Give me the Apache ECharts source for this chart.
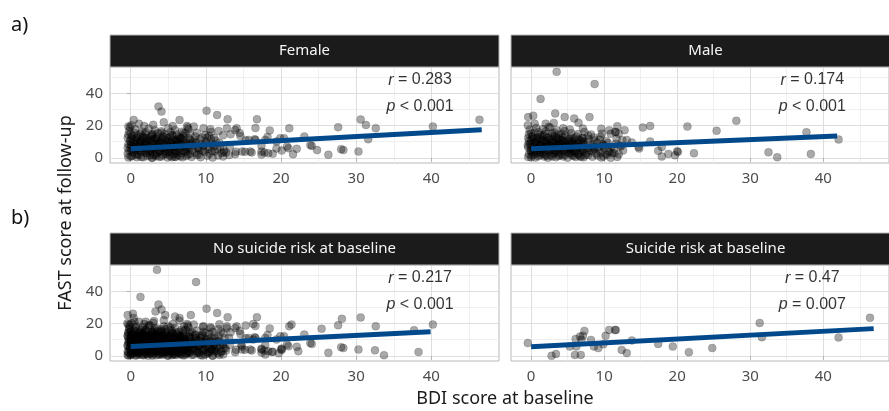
<!DOCTYPE html>
<html>
<head>
<meta charset="utf-8">
<script src="https://cdn.jsdelivr.net/npm/echarts@6/dist/echarts.min.js"></script>
<style>
  html, body { margin: 0; padding: 0; background: #ffffff; }
  #chart { width: 889px; height: 411px; }
</style>
</head>
<body>
<div id="chart"></div>
<script>
// BDI score at baseline (x) vs FAST score at follow-up (y), split into four groups.
const femaleNoRisk = [
  [40.2,19.4],[32.6,18.4],[30.6,23.8],[30.3,3.9],[27.6,19.0],[28.0,5.4],[28.3,4.8],[26.3,1.9],
  [23.9,8.0],[24.1,7.4],[23.1,13.2],[22.1,5.6],[21.1,18.4],[20.8,7.0],[20.1,4.5],[20.4,12.2],
  [18.9,2.5],[18.5,17.0],[18.2,13.0],[17.8,3.3],[16.8,24.0],[16.6,18.5],[16.5,11.6],[16.1,3.3],
  [15.2,3.8],[15.3,11.0],[14.5,15.4],[14.6,13.5],[14.1,18.3],[14.0,3.8],[12.9,24.0],[13.3,14.6],
  [13.2,6.8],[11.5,26.6],[12.3,14.0],[10.6,17.8],[10.1,29.3],[11.3,10.8],[9.7,18.4],[7.5,19.8],
  [7.7,17.8],[6.5,23.5],[3.7,31.8],[4.1,28.7],[4.4,22.1],[0.4,23.5],[-0.1,19.0],[8.4,19.4],
  [11.7,16.7],[12.8,18.4],[13.9,17.3],[16.6,11.1],[15.7,11.1],[17.9,11.1],[19.9,12.2],[19.4,10.1],
  [21.0,6.0],[17.4,3.9],[17.4,2.0],[15.9,3.9],[14.8,3.9],[13.9,2.3],[18.3,2.9],
  [-0.3,0.2],[0.2,1.1],[0.8,0.4],[1.1,1.8],[1.7,0.3],[2.2,1.2],[2.9,0.1],[3.1,1.6],[3.8,0.6],
  [4.3,1.9],[4.9,0.2],[5.2,1.3],[5.8,0.7],[6.3,1.8],[6.9,0.3],[7.4,1.1],[8.1,0.5],[8.8,1.7],
  [9.3,0.4],[10.2,1.3],[10.9,0.2],[11.6,1.5],[12.3,0.8],
  [-0.4,2.6],[0.3,3.4],[0.9,2.2],[1.4,3.8],[2.1,2.9],[2.6,3.6],[3.3,2.4],[3.9,3.9],[4.6,2.7],
  [5.1,3.5],[5.7,2.3],[6.2,3.8],[6.8,2.8],[7.3,3.6],[7.9,2.4],[8.6,3.2],[9.1,2.1],[9.8,3.7],
  [10.5,2.6],[11.2,3.9],[12.1,2.9],[12.7,3.3],
  [-0.2,4.4],[0.4,5.6],[1.0,4.8],[1.6,5.9],[2.3,4.2],[2.8,5.3],[3.4,4.7],[4.1,5.8],[4.7,4.3],
  [5.3,5.1],[5.9,4.6],[6.4,5.7],[7.1,4.1],[7.7,5.4],[8.2,4.8],[8.9,5.9],[9.6,4.5],[10.3,5.5],
  [10.8,4.2],[11.5,5.2],[12.4,4.9],
  [-0.4,6.3],[0.1,7.5],[0.7,6.8],[1.3,7.9],[1.9,6.2],[2.5,7.4],[3.2,6.6],[3.7,7.8],[4.4,6.1],
  [5.0,7.2],[5.5,6.7],[6.1,7.9],[6.7,6.4],[7.2,7.3],[7.8,6.9],[8.4,7.7],[9.0,6.3],[9.7,7.5],
  [10.4,6.8],[11.1,7.2],[11.9,6.5],
  [-0.3,8.4],[0.3,9.6],[0.9,8.8],[1.5,9.9],[2.0,8.2],[2.7,9.3],[3.3,8.7],[4.0,9.8],[4.5,8.3],
  [5.2,9.4],[5.8,8.9],[6.3,9.7],[6.9,8.1],[7.5,9.2],[8.1,8.6],[8.7,9.5],[9.4,8.4],[10.1,9.1],
  [10.9,8.7],[11.8,9.3],
  [-0.1,10.6],[0.5,11.4],[1.2,10.2],[1.8,11.8],[2.4,10.9],[3.0,11.5],[3.6,10.3],[4.2,11.7],
  [4.9,10.5],[5.5,11.2],[6.0,10.8],[6.6,11.9],[7.3,10.4],[7.9,11.3],[8.5,10.7],[9.2,11.6],
  [10.0,10.2],[10.7,11.4],
  [-0.4,12.5],[0.2,13.6],[0.8,12.9],[1.6,13.3],[2.2,12.2],[2.9,13.8],[3.5,12.7],[4.3,13.4],
  [5.0,12.4],[5.6,13.9],[6.4,12.8],[7.0,13.5],[7.7,12.3],[8.6,13.2],[9.5,12.6],[10.4,13.7],
  [11.1,12.4],
  [-0.3,14.4],[0.5,15.5],[1.3,14.9],[2.0,15.8],[2.8,14.3],[3.6,15.2],[4.5,14.7],[5.3,15.9],
  [6.1,14.5],[7.0,15.3],[7.9,14.8],[8.8,15.6],[9.9,14.2],
  [-0.2,16.7],[0.6,17.8],[1.5,16.4],[2.4,18.2],[3.2,17.1],[4.1,16.5],[5.0,18.4],[5.9,17.3],
  [6.8,16.2],[7.6,18.9],
  [-0.3,19.5],[0.1,20.3],[1.1,21.2],[1.8,19.8],[3.0,20.5],[5.6,19.7],
  [0.0,0.9],[0.6,2.0],[1.4,0.6],[2.0,3.1],[2.6,1.7],[3.5,3.0],[4.1,0.8],[4.8,2.5],[5.5,0.4],
  [6.0,2.9],[6.6,1.0],[7.6,2.0],
  [0.1,4.2],[0.7,5.0],[1.3,4.4],[1.9,5.2],[2.5,4.6],[3.1,5.5],[3.8,4.0],[4.4,4.9],[5.1,4.4],
  [5.7,5.4],[6.5,4.5],[7.4,4.9],
  [0.0,6.0],[0.5,6.6],[1.1,7.0],[1.7,6.5],[2.2,7.9],[2.9,6.1],[3.5,7.1],[4.1,6.5],[4.7,7.6],
  [5.3,6.3],[5.9,7.0],[6.5,7.6],[7.5,6.1],
  [0.0,8.1],[0.6,8.5],[1.2,9.2],[1.8,8.6],[2.4,9.8],[3.0,8.1],[3.7,9.3],[4.3,8.9],[4.9,9.6],
  [5.6,8.2],[6.2,9.0],[7.2,8.6],
  [0.0,10.3],[0.7,10.8],[1.4,11.1],[2.0,10.4],[2.7,11.0],[3.3,11.9],[3.9,10.8],[4.6,11.3],
  [5.3,10.1],[6.2,11.4],[7.0,11.0],
  [0.1,12.0],[0.9,12.3],[1.8,12.6],[2.6,13.0],[3.4,12.2],[4.4,12.8],[5.3,13.2],[6.6,12.5],
  [0.0,14.9],[0.9,14.1],[1.9,14.6],[3.0,14.9],[4.1,15.6],[5.5,14.2]
];

const femaleRisk = [
  [2.8,0.0],[3.4,1.2],[6.1,10.5],[6.0,0.6],[6.7,12.0],[7.3,15.5],[8.2,9.9],[9.2,4.8],
  [10.2,12.4],[10.7,16.1],[12.4,3.7],[13.1,1.7],[17.4,7.4],[19.4,5.8],[21.6,2.3],[24.8,4.8],
  [31.3,20.4],[31.6,11.6],[46.4,23.6]
];

const maleNoRisk = [
  [3.5,53.4],[8.7,45.8],[1.3,36.6],[3.3,27.6],[0.3,26.2],[-0.4,25.3],[4.6,25.3],[5.9,24.4],
  [6.5,21.8],[8.0,25.3],[-0.45,20.2],[0.5,21.2],[2.0,21.2],[2.4,19.2],[3.1,21.7],[9.6,18.1],
  [10.7,17.1],[11.8,19.6],[12.8,17.2],[12.0,15.0],[10.9,15.0],[9.7,15.0],[15.3,18.8],[16.3,19.8],
  [21.4,19.4],[25.4,16.8],[28.1,23.0],[37.7,15.9],[38.3,2.4],[33.7,0.4],[32.5,3.4],[22.3,2.9],
  [20.0,4.1],[20.1,3.7],[19.7,1.6],[18.8,2.4],[17.9,0.8],[17.4,4.4],[17.9,6.8],[16.3,10.1],
  [14.8,5.8],[13.1,11.1],[12.3,7.0],[11.4,2.9],[11.8,0.6],[11.1,2.7],[9.9,0.8],[10.9,0.1],[14.7,6.8],
  [-0.4,0.5],[0.1,1.4],[0.6,0.2],[1.2,1.7],[1.8,0.8],[2.3,0.1],[2.7,1.5],[3.4,0.4],[3.9,1.9],
  [4.4,0.9],[5.0,0.1],[5.6,1.6],[6.1,0.5],[6.7,1.2],[7.2,0.3],[7.8,1.8],[8.4,0.7],[9.1,1.4],
  [9.6,0.2],[10.4,1.9],
  [-0.3,2.3],[0.2,3.7],[0.8,2.9],[1.3,3.2],[1.9,2.1],[2.5,3.9],[3.0,2.6],[3.6,3.4],[4.2,2.2],
  [4.8,3.8],[5.4,2.7],[5.9,3.3],[6.5,2.1],[7.0,3.6],[7.6,2.8],[8.3,3.9],[8.9,2.5],[9.5,3.1],
  [10.2,2.4],[10.8,3.7],[12.0,2.2],
  [-0.1,4.7],[0.4,5.3],[1.0,4.1],[1.6,5.7],[2.1,4.9],[2.7,5.4],[3.3,4.3],[3.8,5.9],[4.5,4.6],
  [5.1,5.2],[5.7,4.2],[6.3,5.8],[6.8,4.7],[7.4,5.5],[8.0,4.4],[8.6,5.6],[9.3,4.9],[10.0,5.8],
  [10.6,4.3],[11.3,5.4],[12.6,4.6],
  [-0.4,6.6],[0.3,7.2],[0.9,6.1],[1.4,7.7],[2.0,6.9],[2.6,7.3],[3.1,6.4],[3.7,7.9],[4.3,6.7],
  [4.9,7.4],[5.5,6.2],[6.0,7.6],[6.6,6.9],[7.3,7.8],[7.9,6.3],[8.5,7.1],[9.2,6.6],[9.9,7.9],
  [11.0,6.8],[12.2,7.5],
  [-0.2,8.7],[0.5,9.3],[1.1,8.2],[1.7,9.8],[2.2,8.5],[2.9,9.6],[3.5,8.3],[4.0,9.1],[4.7,8.8],
  [5.3,9.9],[5.8,8.4],[6.4,9.4],[7.1,8.9],[7.7,9.7],[8.4,8.2],[9.0,9.5],[9.8,8.6],[10.5,9.2],
  [11.6,8.8],
  [-0.3,10.4],[0.3,11.8],[0.8,10.9],[1.5,11.3],[2.1,10.1],[2.8,11.6],[3.4,10.7],[4.1,11.2],
  [4.6,10.3],[5.2,11.9],[5.9,10.6],[6.5,11.4],[7.2,10.2],[7.9,11.7],[8.7,10.8],[9.4,11.3],
  [10.3,10.5],[11.7,11.8],[12.5,10.9],
  [-0.4,12.3],[0.2,13.4],[1.0,12.8],[1.7,13.9],[2.4,12.5],[3.2,13.2],[3.9,12.1],[4.7,13.7],
  [5.4,12.6],[6.2,13.3],[7.0,12.2],[7.8,13.8],[8.6,12.7],[9.5,13.1],
  [-0.3,14.6],[0.5,15.8],[1.2,14.2],[2.0,16.3],[2.9,15.1],[3.8,14.4],[4.6,16.6],[5.5,15.3],
  [6.4,14.8],[7.3,16.1],[8.2,14.5],
  [-0.2,17.4],[0.7,18.6],[1.6,17.8],[2.6,18.9],[3.5,17.2],[4.4,18.3],[5.3,17.6],[7.1,18.2],
  [0.0,0.3],[0.4,2.1],[1.0,1.0],[1.6,2.6],[2.1,1.3],[2.9,0.8],[3.2,2.9],[3.8,1.2],[4.6,1.7],
  [5.2,2.9],[5.8,1.1],[6.4,2.5],[7.4,1.6],
  [0.0,4.0],[0.6,4.8],[1.3,5.1],[1.9,4.3],[2.4,5.8],[3.0,4.6],[3.6,5.2],[4.1,4.1],[4.8,5.6],
  [5.4,4.8],[6.0,4.3],[7.1,5.1],
  [0.0,6.2],[0.7,6.9],[1.2,7.5],[1.8,6.4],[2.3,7.7],[2.9,6.7],[3.4,7.3],[4.0,6.3],[4.6,7.5],
  [5.2,6.8],[5.8,7.2],[6.9,6.2],
  [0.0,8.4],[0.8,8.9],[1.4,8.5],[2.0,9.5],[2.6,8.1],[3.2,9.1],[3.8,8.6],[4.4,9.6],[5.0,8.3],
  [5.6,9.2],[6.2,8.6],
  [0.0,10.8],[0.6,10.2],[1.2,11.5],[1.9,10.7],[2.5,11.2],[3.1,10.3],[3.7,11.6],[4.3,10.6],
  [5.0,11.0],[5.6,10.4],[6.8,10.9],
  [0.1,12.9],[0.8,12.1],[1.5,13.1],[2.2,12.7],[2.9,13.6],[3.5,12.4],[4.3,13.1],[5.9,12.2],
  [0.0,15.2],[1.0,16.0],[1.9,14.8],[3.2,15.7],[4.2,14.9]
];

const maleRisk = [
  [-0.45,7.9],[5.3,5.8],[6.8,0.6],[6.2,5.8],[7.1,12.4],[6.9,10.0],[8.6,5.8],[9.9,7.2],
  [11.5,16.1],[11.6,16.0],[13.8,9.5],[42.1,11.4]
];

// Fitted regression lines: [start, end] in data units
const fitFemale = [[0, 5.6], [46.7, 17.5]];
const fitMale = [[0, 5.6], [41.9, 13.6]];
const fitNoRisk = [[0, 5.8], [39.9, 15.0]];
const fitRisk = [[0, 5.6], [46.9, 16.9]];

// Facet titles and correlation annotations
const panelTitles = ['Female', 'Male', 'No suicide risk at baseline', 'Suicide risk at baseline'];
const rValues = ['0.283', '0.174', '0.217', '0.47'];
const pValues = ['< 0.001', '< 0.001', '< 0.001', '= 0.007'];
const annoX = 38.5;
const annoRY = 48.3;
const annoPY = 31.6;

// Axis breaks
const xMajor = [0, 10, 20, 30, 40];
const xMinor = [5, 15, 25, 35, 45];
const yMajor = [0, 20, 40];
const yMinor = [10, 30, 50];

const panelPoints = [
  femaleNoRisk.concat(femaleRisk),
  maleNoRisk.concat(maleRisk),
  femaleNoRisk.concat(maleNoRisk),
  femaleRisk.concat(maleRisk)
];
const panelFits = [fitFemale, fitMale, fitNoRisk, fitRisk];

// Panel geometry (pixels)
const PW = 389, PH = 96, STRIP = 32;
const layout = [
  { left: 110, top: 67 }, { left: 511, top: 67 },
  { left: 110, top: 265 }, { left: 511, top: 265 }
];

const FONT = 'Noto Sans';
const chart = echarts.init(document.getElementById('chart'), null, { renderer: 'canvas' });

const grids = [], xAxes = [], yAxes = [], series = [], graphics = [];

layout.forEach((L, i) => {
  grids.push({
    left: L.left, top: L.top, width: PW, height: PH,
    show: true, borderColor: '#b8b8b8', borderWidth: 1, backgroundColor: 'transparent'
  });
  xAxes.push({
    gridIndex: i, type: 'value', min: -2.75, max: 49,
    axisLine: { show: false },
    splitLine: { show: false },
    axisTick: { show: true, length: 4, customValues: xMajor, lineStyle: { color: '#b3b3b3' } },
    axisLabel: { customValues: xMajor, color: '#4d4d4d', fontSize: 15, margin: 8, fontFamily: FONT }
  });
  const leftCol = (i % 2 === 0);
  yAxes.push({
    gridIndex: i, type: 'value', min: -3.2, max: 56.4,
    axisLine: { show: false },
    splitLine: { show: false },
    axisTick: { show: leftCol, length: 4, customValues: yMajor, lineStyle: { color: '#b3b3b3' } },
    axisLabel: { show: leftCol, customValues: yMajor, color: '#4d4d4d', fontSize: 15, margin: 7, fontFamily: FONT }
  });

  // panel grid lines, kept underneath the points
  const mk = [];
  xMinor.forEach(v => mk.push({ xAxis: v, lineStyle: { color: '#ececec', width: 0.8 } }));
  yMinor.forEach(v => mk.push({ yAxis: v, lineStyle: { color: '#ececec', width: 0.8 } }));
  xMajor.forEach(v => mk.push({ xAxis: v, lineStyle: { color: '#dedede', width: 1 } }));
  yMajor.forEach(v => mk.push({ yAxis: v, lineStyle: { color: '#dedede', width: 1 } }));
  series.push({
    type: 'scatter', xAxisIndex: i, yAxisIndex: i, data: [], z: 1, silent: true,
    markLine: {
      z: 0, silent: true, symbol: ['none', 'none'], animation: false,
      label: { show: false }, lineStyle: { type: 'solid' }, data: mk
    }
  });

  // observations
  series.push({
    type: 'scatter', xAxisIndex: i, yAxisIndex: i, z: 3,
    data: panelPoints[i], symbolSize: 8, large: false, animation: false,
    itemStyle: { color: 'rgba(0,0,0,0.42)', borderColor: 'rgba(0,0,0,0.3)', borderWidth: 0.6 }
  });

  // regression line
  series.push({
    type: 'line', xAxisIndex: i, yAxisIndex: i, z: 4,
    data: panelFits[i], symbol: 'none', animation: false,
    lineStyle: { color: '#02498c', width: 5, cap: 'butt' }
  });

  // r / p annotation
  const labels = ['{i|r} = ' + rValues[i], '{i|p} ' + pValues[i]];
  series.push({
    type: 'scatter', xAxisIndex: i, yAxisIndex: i, z: 5, animation: false,
    data: [[annoX, annoRY], [annoX, annoPY]],
    symbolSize: 1, itemStyle: { color: 'rgba(0,0,0,0)' },
    label: {
      show: true, position: 'inside',
      formatter: p => labels[p.dataIndex],
      color: '#000', fontSize: 16, fontFamily: 'Liberation Sans',
      rich: { i: { fontStyle: 'italic', fontSize: 16, fontFamily: 'Liberation Sans', color: '#000' } }
    }
  });

  // facet strip
  graphics.push({
    type: 'rect', shape: { x: L.left, y: L.top - STRIP, width: PW, height: STRIP },
    style: { fill: '#1c1b1b', stroke: '#b8b8b8', lineWidth: 1 }, z: 10
  });
  graphics.push({
    type: 'text', x: L.left + PW / 2, y: L.top - STRIP / 2, z: 11,
    style: {
      text: panelTitles[i], fill: '#f5f5f5', font: '15px "' + FONT + '"',
      align: 'center', verticalAlign: 'middle'
    }
  });
});

graphics.push({
  type: 'text', x: 11, y: 25,
  style: { text: 'a)', fill: '#111', font: '20px "' + FONT + '"', align: 'left', verticalAlign: 'middle' }
});
graphics.push({
  type: 'text', x: 11, y: 218,
  style: { text: 'b)', fill: '#111', font: '20px "' + FONT + '"', align: 'left', verticalAlign: 'middle' }
});
graphics.push({
  type: 'text', x: 505, y: 399,
  style: { text: 'BDI score at baseline', fill: '#1a1a1a', font: '18px "' + FONT + '"', align: 'center', verticalAlign: 'middle' }
});
graphics.push({
  type: 'text', x: 66, y: 213, rotation: Math.PI / 2,
  style: { text: 'FAST score at follow-up', fill: '#1a1a1a', font: '18px "' + FONT + '"', align: 'center', verticalAlign: 'middle' }
});

chart.setOption({
  animation: false,
  backgroundColor: '#ffffff',
  grid: grids,
  xAxis: xAxes,
  yAxis: yAxes,
  series: series,
  graphic: graphics
});
</script>
</body>
</html>
